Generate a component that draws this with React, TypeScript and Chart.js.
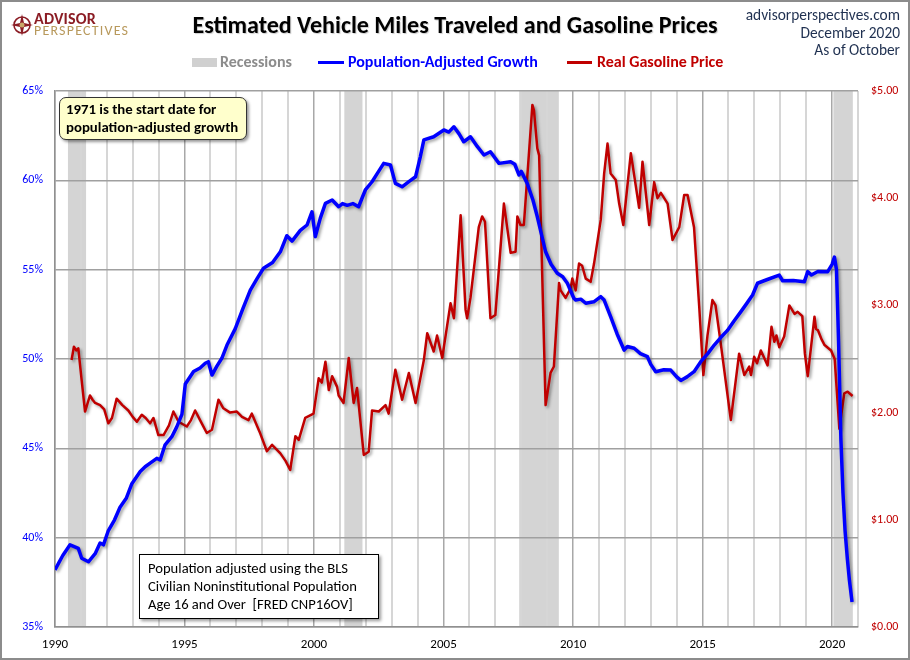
import { useEffect, useRef } from "react"
import { Chart, registerables } from "chart.js"

Chart.register(...registerables)

// population-adjusted vehicle miles traveled growth (% since 1971)
const vmtYears = [
  1990.0, 1990.15, 1990.3, 1990.58, 1990.9, 1991.03, 1991.29, 1991.55, 1991.74, 1991.87,
  1992.06, 1992.3, 1992.51, 1992.75, 1992.96, 1993.29, 1993.48, 1993.7, 1993.93, 1994.06,
  1994.25, 1994.51, 1994.7, 1994.9, 1995.03, 1995.35, 1995.6, 1995.8, 1995.92, 1996.06,
  1996.25, 1996.44, 1996.64, 1996.96, 1997.25, 1997.54, 1997.8, 1998.05, 1998.4, 1998.7,
  1998.95, 1999.15, 1999.47, 1999.73, 1999.92, 2000.05, 2000.24, 2000.44, 2000.7, 2000.95,
  2001.1, 2001.28, 2001.5, 2001.72, 2001.98, 2002.24, 2002.45, 2002.69, 2002.95, 2003.14,
  2003.4, 2003.66, 2003.92, 2004.1, 2004.24, 2004.62, 2005.01, 2005.2, 2005.4, 2005.6,
  2005.78, 2006.04, 2006.3, 2006.56, 2006.81, 2007.14, 2007.59, 2007.75, 2007.91, 2008.0,
  2008.23, 2008.45, 2008.62, 2008.94, 2009.15, 2009.39, 2009.6, 2009.78, 2010.03, 2010.1,
  2010.3, 2010.49, 2010.8, 2011.07, 2011.2, 2011.45, 2011.7, 2011.97, 2012.1, 2012.36,
  2012.6, 2012.87, 2013.0, 2013.19, 2013.5, 2013.77, 2014.0, 2014.16, 2014.4, 2014.67,
  2014.93, 2015.2, 2015.45, 2015.7, 2015.96, 2016.2, 2016.48, 2016.7, 2016.93, 2017.12,
  2017.5, 2017.96, 2018.09, 2018.5, 2018.93, 2019.06, 2019.2, 2019.45, 2019.83, 2020.0,
  2020.09, 2020.17, 2020.25, 2020.34, 2020.42, 2020.5, 2020.59, 2020.67, 2020.77,
]
const vmtGrowth = [
  38.2, 38.6, 39.0, 39.6, 39.4, 38.85, 38.65, 39.1, 39.7, 39.6,
  40.4, 41.0, 41.7, 42.2, 43.0, 43.7, 43.97, 44.2, 44.44, 44.35,
  45.2, 45.65, 46.2, 46.9, 48.6, 49.3, 49.5, 49.76, 49.85, 49.1,
  49.6, 50.04, 50.78, 51.7, 52.8, 53.86, 54.5, 55.08, 55.4, 56.0,
  56.9, 56.6, 57.2, 57.5, 58.24, 56.85, 57.87, 58.71, 58.9, 58.52,
  58.7, 58.6, 58.7, 58.52, 59.46, 59.92, 60.4, 60.95, 60.86, 59.83,
  59.64, 59.93, 60.2, 61.3, 62.26, 62.44, 62.82, 62.7, 63.0, 62.6,
  62.16, 62.44, 61.9, 61.42, 61.6, 60.95, 61.04, 60.9, 60.3, 60.5,
  59.83, 58.9, 57.96, 56.0, 55.3, 54.8, 54.6, 54.24, 53.4, 53.3,
  53.35, 53.12, 53.2, 53.49, 53.3, 52.37, 51.4, 50.5, 50.7, 50.6,
  50.3, 50.13, 49.7, 49.29, 49.4, 49.38, 49.0, 48.8, 49.0, 49.29,
  49.85, 50.3, 50.78, 51.2, 51.6, 52.1, 52.65, 53.1, 53.58, 54.24,
  54.45, 54.7, 54.38, 54.4, 54.33, 54.89, 54.7, 54.9, 54.89, 55.3,
  55.7, 55.0, 51.0, 45.5, 42.5, 40.4, 38.8, 37.6, 36.4,
]

// real gasoline price (dollars)
const gasYears = [
  1990.64, 1990.73, 1990.82, 1990.9, 1991.03, 1991.16, 1991.35, 1991.45, 1991.55, 1991.74,
  1991.9, 1992.06, 1992.2, 1992.38, 1992.6, 1992.83, 1993.0, 1993.16, 1993.35, 1993.5,
  1993.67, 1993.8, 1993.99, 1994.19, 1994.4, 1994.57, 1994.77, 1995.09, 1995.25, 1995.41,
  1995.6, 1995.86, 1996.06, 1996.31, 1996.5, 1996.76, 1997.02, 1997.22, 1997.47, 1997.6,
  1997.9, 1998.18, 1998.38, 1998.7, 1998.9, 1999.08, 1999.28, 1999.41, 1999.66, 1999.98,
  2000.18, 2000.3, 2000.44, 2000.57, 2000.7, 2000.89, 2000.95, 2001.14, 2001.34, 2001.53,
  2001.66, 2001.92, 2002.11, 2002.24, 2002.5, 2002.76, 2002.88, 2003.14, 2003.4, 2003.66,
  2003.92, 2004.24, 2004.37, 2004.62, 2004.75, 2004.95, 2005.27, 2005.4, 2005.66, 2005.85,
  2005.91, 2006.04, 2006.36, 2006.49, 2006.6, 2006.81, 2007.0, 2007.33, 2007.59, 2007.78,
  2007.85, 2007.97, 2008.1, 2008.43, 2008.49, 2008.62, 2008.69, 2008.94, 2009.13, 2009.26,
  2009.46, 2009.52, 2009.71, 2009.91, 2009.97, 2010.1, 2010.23, 2010.35, 2010.49, 2010.68,
  2010.81, 2011.07, 2011.2, 2011.33, 2011.45, 2011.65, 2011.78, 2011.94, 2012.23, 2012.55,
  2012.68, 2012.94, 2013.13, 2013.26, 2013.39, 2013.65, 2013.84, 2014.1, 2014.29, 2014.42,
  2014.67, 2014.87, 2015.03, 2015.19, 2015.38, 2015.5, 2015.71, 2016.09, 2016.41, 2016.61,
  2016.8, 2016.87, 2016.99, 2017.1, 2017.25, 2017.51, 2017.66, 2017.77, 2017.85, 2017.96,
  2018.15, 2018.35, 2018.55, 2018.67, 2018.85, 2018.95, 2019.06, 2019.32, 2019.38, 2019.45,
  2019.6, 2019.71, 2019.96, 2020.1, 2020.28, 2020.47, 2020.6, 2020.79,
]
const gasPrices = [
  2.49, 2.615, 2.58, 2.6, 2.3, 2.01, 2.16, 2.12, 2.09, 2.07,
  2.03, 1.9, 1.95, 2.13, 2.07, 2.02, 1.96, 1.915, 1.98, 1.95,
  1.9, 1.95, 1.79, 1.79, 1.88, 2.01, 1.915, 1.87, 1.93, 2.02,
  1.93, 1.81, 1.84, 2.12, 2.04, 2.0, 2.01, 1.96, 1.93, 1.99,
  1.82, 1.64, 1.7, 1.62, 1.55, 1.465, 1.78, 1.745, 1.95, 1.99,
  2.32, 2.28, 2.475, 2.21, 2.34, 2.24, 2.16, 2.09, 2.51, 2.09,
  2.23, 1.605, 1.635, 2.02, 2.01, 2.07, 1.99, 2.4, 2.12, 2.37,
  2.09, 2.49, 2.74, 2.57, 2.72, 2.51, 3.02, 2.88, 3.84, 2.96,
  2.88, 3.07, 3.73, 3.83, 3.78, 2.88, 2.91, 3.95, 3.49, 3.5,
  3.83, 3.75, 3.75, 4.87, 4.82, 4.465, 4.4, 2.07, 2.37, 2.43,
  3.21, 3.14, 3.07, 3.16, 3.25, 3.14, 3.39, 3.37, 3.25, 3.22,
  3.39, 3.8, 4.23, 4.51, 4.23, 4.17, 3.95, 3.75, 4.42, 3.91,
  4.34, 3.75, 4.15, 4.0, 4.05, 3.95, 3.61, 3.73, 4.03, 4.03,
  3.73, 2.99, 2.35, 2.72, 3.05, 3.0, 2.63, 1.93, 2.55, 2.35,
  2.43, 2.35, 2.52, 2.46, 2.58, 2.44, 2.8, 2.66, 2.72, 2.61,
  2.71, 3.0, 2.92, 2.94, 2.9, 2.55, 2.34, 2.895, 2.78, 2.77,
  2.68, 2.63, 2.58, 2.5, 1.85, 2.18, 2.195, 2.155,
]

const recessionStarts = [1990.5, 2001.17, 2007.92, 2020.05]
const recessionEnds = [1991.2, 2001.87, 2009.45, 2020.8]

const font = "Carlito, Calibri, Lato, sans-serif"

const recessionPlugin = {
  id: "recessions",
  beforeDraw(chart: Chart) {
    const { ctx, chartArea, scales } = chart
    ctx.save()
    ctx.fillStyle = "#d4d4d4"
    recessionStarts.forEach((start, i) => {
      const x0 = scales.x.getPixelForValue(start)
      const x1 = scales.x.getPixelForValue(recessionEnds[i])
      ctx.fillRect(x0, chartArea.top, x1 - x0, chartArea.bottom - chartArea.top)
    })
    ctx.restore()
  },
}

const shadowPlugin = {
  id: "lineShadow",
  beforeDatasetsDraw(chart: Chart) {
    const ctx = chart.ctx
    ctx.save()
    ctx.shadowColor = "rgba(0, 0, 0, 0.35)"
    ctx.shadowBlur = 3
    ctx.shadowOffsetX = 2
    ctx.shadowOffsetY = 2
  },
  afterDatasetsDraw(chart: Chart) {
    chart.ctx.restore()
  },
}

function VmtChart() {
  const chartRef = useRef<HTMLCanvasElement>(null)
  const chartInstance = useRef<Chart | null>(null)

  useEffect(() => {
    if (!chartRef.current) return
    const ctx = chartRef.current.getContext("2d")
    if (!ctx) return

    if (chartInstance.current) chartInstance.current.destroy()

    chartInstance.current = new Chart(ctx, {
      type: "line",
      data: {
        datasets: [
          {
            label: "Population-Adjusted Growth",
            data: vmtYears.map((x, i) => ({ x, y: vmtGrowth[i] })),
            borderColor: "#0000ff",
            borderWidth: 3.5,
            yAxisID: "y",
            pointRadius: 0,
            tension: 0,
            borderJoinStyle: "round",
          },
          {
            label: "Real Gasoline Price",
            data: gasYears.map((x, i) => ({ x, y: gasPrices[i] })),
            borderColor: "#c00000",
            borderWidth: 2.5,
            yAxisID: "y1",
            pointRadius: 0,
            tension: 0,
            borderJoinStyle: "round",
          },
        ],
      },
      options: {
        responsive: true,
        maintainAspectRatio: false,
        animation: false,
        layout: { padding: { top: 91, left: 0, right: 0, bottom: 0 } },
        scales: {
          x: {
            type: "linear",
            min: 1990,
            max: 2021,
            afterFit: (s: any) => {
              s.height = 33
            },
            ticks: {
              stepSize: 1,
              autoSkip: false,
              maxRotation: 0,
              padding: 10,
              color: "#000",
              font: { family: font, size: 13 },
              callback: (v: any) => (Number(v) % 5 === 0 ? String(v) : ""),
            },
            grid: {
              drawTicks: false,
              color: (c: any) => (c.tick && c.tick.value % 5 === 0 ? "#a8a8a8" : "#d6d6d6"),
              lineWidth: (c: any) => (c.tick && c.tick.value % 5 === 0 ? 1.5 : 2),
            },
            border: { color: "#909090", width: 1.5 },
          },
          y: {
            position: "left",
            min: 35,
            max: 65,
            afterFit: (s: any) => {
              s.width = 55
            },
            ticks: {
              stepSize: 5,
              padding: 12,
              color: "#0000ff",
              font: { family: font, size: 12 },
              callback: (v: any) => v + "%",
            },
            grid: { drawTicks: false, color: "#a0a0a0", lineWidth: 1.5 },
            border: { color: "#909090", width: 1.5 },
          },
          y1: {
            position: "right",
            min: 0,
            max: 5,
            afterFit: (s: any) => {
              s.width = 52
            },
            ticks: {
              stepSize: 1,
              padding: 13,
              color: "#c00000",
              font: { family: font, size: 12 },
              callback: (v: any) => "$" + Number(v).toFixed(2),
            },
            grid: { drawOnChartArea: false, drawTicks: false },
            border: { display: false },
          },
        },
        plugins: {
          legend: { display: false },
          tooltip: { enabled: false },
        },
      },
      plugins: [recessionPlugin, shadowPlugin],
    })

    return () => {
      if (chartInstance.current) {
        chartInstance.current.destroy()
        chartInstance.current = null
      }
    }
  }, [])

  return (
    <div style={{ position: "absolute", left: 0, top: 0, width: 910, height: 660 }}>
      <canvas ref={chartRef} />
    </div>
  )
}

function Logo() {
  return (
    <div style={{ position: "absolute", left: 11, top: 11, display: "flex", alignItems: "center" }}>
      <svg width="22" height="22" viewBox="0 0 22 22">
        <circle cx="11" cy="11" r="8" fill="none" stroke="#8b1c24" strokeWidth="1.6" />
        <polygon points="11,0 13,9 22,11 13,13 11,22 9,13 0,11 9,9" fill="#8b1c24" />
        <circle cx="11" cy="11" r="2.5" fill="#c9a86a" />
      </svg>
      <div style={{ marginLeft: 1, lineHeight: 1 }}>
        <div style={{ color: "#8b1c24", fontWeight: 700, fontSize: 16, letterSpacing: 0.2 }}>ADVISOR</div>
        <div style={{ color: "#b8995c", fontSize: 14, letterSpacing: 1.2, marginTop: -3 }}>PERSPECTIVES</div>
      </div>
    </div>
  )
}

export default function App() {
  const legendText = { position: "absolute" as const, top: 52, fontSize: 16, fontWeight: 700 }
  return (
    <div style={{ position: "relative", width: 910, height: 660, background: "#fff", fontFamily: font, overflow: "hidden" }}>
      <style>{"body{margin:0}"}</style>
      <VmtChart />
      <Logo />
      <div
        style={{
          position: "absolute",
          left: 0,
          width: 910,
          top: 10,
          textAlign: "center",
          fontSize: 24,
          fontWeight: 700,
          color: "#000",
          textShadow: "1px 1px 1px rgba(0,0,0,0.2)",
        }}
      >
        Estimated Vehicle Miles Traveled and Gasoline Prices
      </div>
      <div
        style={{
          position: "absolute",
          right: 10,
          top: 6,
          textAlign: "right",
          fontSize: 15.4,
          lineHeight: "17.7px",
          color: "#1f3050",
        }}
      >
        <div>advisorperspectives.com</div>
        <div>December 2020</div>
        <div>As of October</div>
      </div>

      <div style={{ position: "absolute", left: 192, top: 58, width: 25, height: 9, background: "#d0d0d0" }} />
      <div style={{ ...legendText, left: 220, color: "#8c8c8c" }}>Recessions</div>
      <div style={{ position: "absolute", left: 318, top: 61, width: 26, height: 3, background: "#0000ff" }} />
      <div style={{ ...legendText, left: 348, color: "#0000ff" }}>Population-Adjusted Growth</div>
      <div style={{ position: "absolute", left: 567, top: 61, width: 25, height: 3, background: "#c00000" }} />
      <div style={{ ...legendText, left: 597, color: "#c00000" }}>Real Gasoline Price</div>

      <div
        style={{
          position: "absolute",
          left: 59,
          top: 97,
          width: 188,
          height: 43,
          boxSizing: "border-box",
          background: "#ffffcc",
          border: "1px solid #333",
          borderRadius: 7,
          boxShadow: "2px 2px 3px rgba(0,0,0,0.4)",
          padding: "3px 6px",
          fontSize: 14.8,
          fontWeight: 700,
          lineHeight: "17.7px",
          color: "#000",
          whiteSpace: "nowrap",
        }}
      >
        1971 is the start date for
        <br />
        population-adjusted growth
      </div>

      <div
        style={{
          position: "absolute",
          left: 139,
          top: 554,
          width: 240,
          height: 65,
          boxSizing: "border-box",
          background: "#fff",
          border: "1px solid #000",
          boxShadow: "2px 2px 3px rgba(0,0,0,0.4)",
          padding: "5px 8px",
          fontSize: 14.6,
          lineHeight: "17.8px",
          color: "#000",
          whiteSpace: "nowrap",
        }}
      >
        Population adjusted using the BLS
        <br />
        Civilian Noninstitutional Population
        <br />
        Age 16 and Over&nbsp; [FRED CNP16OV]
      </div>

      <div
        style={{
          position: "absolute",
          left: 0,
          top: 0,
          width: 910,
          height: 660,
          boxSizing: "border-box",
          border: "2px solid #8c8c8c",
          pointerEvents: "none",
        }}
      />
    </div>
  )
}
